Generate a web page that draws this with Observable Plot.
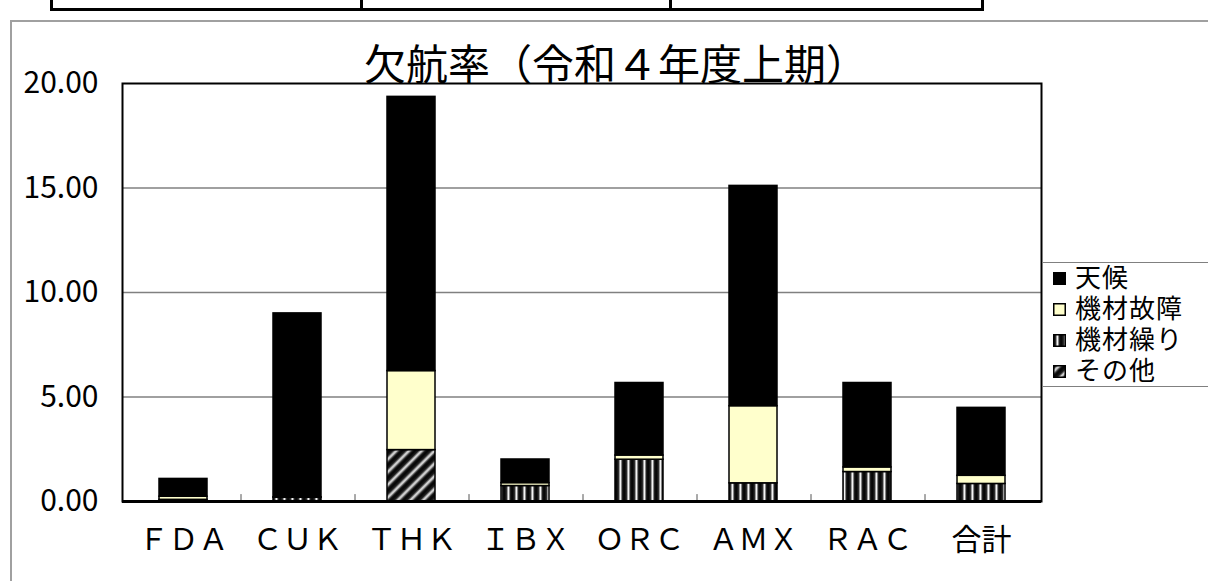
<!DOCTYPE html>
<html>
<head>
<meta charset="utf-8">
<script src="https://cdn.jsdelivr.net/npm/d3@7"></script>
<script src="https://cdn.jsdelivr.net/npm/@observablehq/plot@0.6"></script>
<style>
  html, body { margin: 0; padding: 0; background: #fff; }
  body { width: 1208px; height: 581px; position: relative; overflow: hidden; font-family: "Noto Sans CJK JP", "Noto Sans", sans-serif; }
  .abs { position: absolute; }
  #title { left: 0; width: 1232px; top: 40px; height: 44px; text-align: center; font-size: 42px; line-height: 44px; color: #000; overflow: visible; }
  #legend { left: 1042px; top: 262px; width: 180px; height: 125px; border: 1.5px solid #808080; background: #fff; box-sizing: border-box; }
  .item { position: absolute; left: 10px; height: 29px; display: flex; align-items: center; }
  .item svg { margin-right: 9px; flex: none; }
  .item span { display: block; height: 29px; line-height: 29px; font-family: "Liberation Sans", "Noto Sans CJK JP", sans-serif; font-size: 26px; letter-spacing: 1px; overflow: visible; white-space: nowrap; }
</style>
</head>
<body>
<svg width="0" height="0" style="position:absolute">
  <defs>
    <linearGradient id="stripeGrad" x1="0" x2="1" y1="0" y2="0">
      <stop offset="0" stop-color="#000"/>
      <stop offset="0.3" stop-color="#222"/>
      <stop offset="0.55" stop-color="#fff"/>
      <stop offset="0.8" stop-color="#222"/>
      <stop offset="1" stop-color="#000"/>
    </linearGradient>
    <pattern id="vstripes" patternUnits="userSpaceOnUse" width="8" height="8">
      <rect width="8" height="8" fill="url(#stripeGrad)"/>
    </pattern>
    <pattern id="diag" patternUnits="userSpaceOnUse" width="9" height="9" patternTransform="rotate(45)">
      <rect width="9" height="9" fill="url(#stripeGrad)"/>
    </pattern>
  </defs>
</svg>

<!-- decorative table edge and chart-area border -->
<div class="abs" style="left:50px;top:0;width:928px;height:8px;border:3px solid #000;border-top:none;"></div>
<div class="abs" style="left:360px;top:0;width:3px;height:10px;background:#000;"></div>
<div class="abs" style="left:669px;top:0;width:3px;height:10px;background:#000;"></div>
<div class="abs" style="left:10px;top:20px;width:1200px;height:2px;background:#a0a0a0;"></div>
<div class="abs" style="left:10px;top:20px;width:1.5px;height:570px;background:#a0a0a0;"></div>

<div id="chart" class="abs" style="left:0;top:0;"></div>
<div id="title" class="abs">欠航率（令和４年度上期）</div>
<div id="legend" class="abs"></div>

<script>
const categories = ["ＦＤＡ", "ＣＵＫ", "ＴＨＫ", "ＩＢＸ", "ＯＲＣ", "ＡＭＸ", "ＲＡＣ", "合計"];
const series = ["その他", "機材繰り", "機材故障", "天候"];
const sonota = [0, 0, 2.46, 0, 0, 0, 0, 0];
const kuri   = [0.08, 0.18, 0, 0.74, 2.0, 0.87, 1.41, 0.84];
const kosho  = [0.15, 0.02, 3.78, 0.14, 0.2, 3.69, 0.22, 0.39];
const tenko  = [0.85, 8.8, 13.12, 1.13, 3.47, 10.54, 4.04, 3.25];
const yTicks = [0, 5, 10, 15, 20];

const seriesValues = [sonota, kuri, kosho, tenko];
const fills = ["url(#diag)", "url(#vstripes)", "#FFFFCC", "#000000"];

const rows = [];
series.forEach((s, si) => {
  categories.forEach((c, ci) => {
    const v = seriesValues[si][ci];
    if (v > 0) rows.push({cat: c, series: s, value: v});
  });
});

const chart = Plot.plot({
  width: 1208,
  height: 581,
  marginLeft: 122,
  marginRight: 167,
  marginTop: 83,
  marginBottom: 80,
  style: {fontFamily: "'Noto Sans CJK JP', sans-serif", background: "transparent", color: "#000"},
  x: {domain: categories, paddingInner: 0.58, paddingOuter: 0.29, align: 0.5},
  y: {domain: [0, 20]},
  color: {domain: series, range: fills},
  marks: [
    Plot.ruleY(yTicks.slice(1, -1), {stroke: "#808080", strokeWidth: 1.5}),
    Plot.barY(rows, {x: "cat", y: "value", fill: "series", stroke: "#000", strokeWidth: 1.5}),
    Plot.ruleX(categories.slice(0, -1), {x: d => d, dx: 57.5, y1: 0, y2: 0.33, stroke: "#555", strokeWidth: 1}),
    Plot.frame({stroke: "#000", strokeWidth: 2}),
    Plot.ruleY([0], {stroke: "#000", strokeWidth: 3}),
    Plot.axisY({ticks: yTicks, tickSize: 0, tickPadding: 24, fontSize: 30, tickFormat: d => d.toFixed(2), label: null}),
    Plot.axisX({tickSize: 0, tickPadding: 27, fontSize: 30, label: null})
  ]
});
document.getElementById("chart").appendChild(chart);

// legend
const legend = document.getElementById("legend");
const legendOrder = ["天候", "機材故障", "機材繰り", "その他"];
legendOrder.forEach((s, i) => {
  const div = document.createElement("div");
  div.className = "item";
  div.style.top = (i * 31 + 1) + "px";
  const fill = fills[series.indexOf(s)];
  div.innerHTML = `<svg width="13" height="13"><rect x="0.75" y="0.75" width="11.5" height="11.5" fill="${fill}" stroke="#000" stroke-width="1.5"/></svg><span>${s}</span>`;
  legend.appendChild(div);
});
</script>
</body>
</html>
